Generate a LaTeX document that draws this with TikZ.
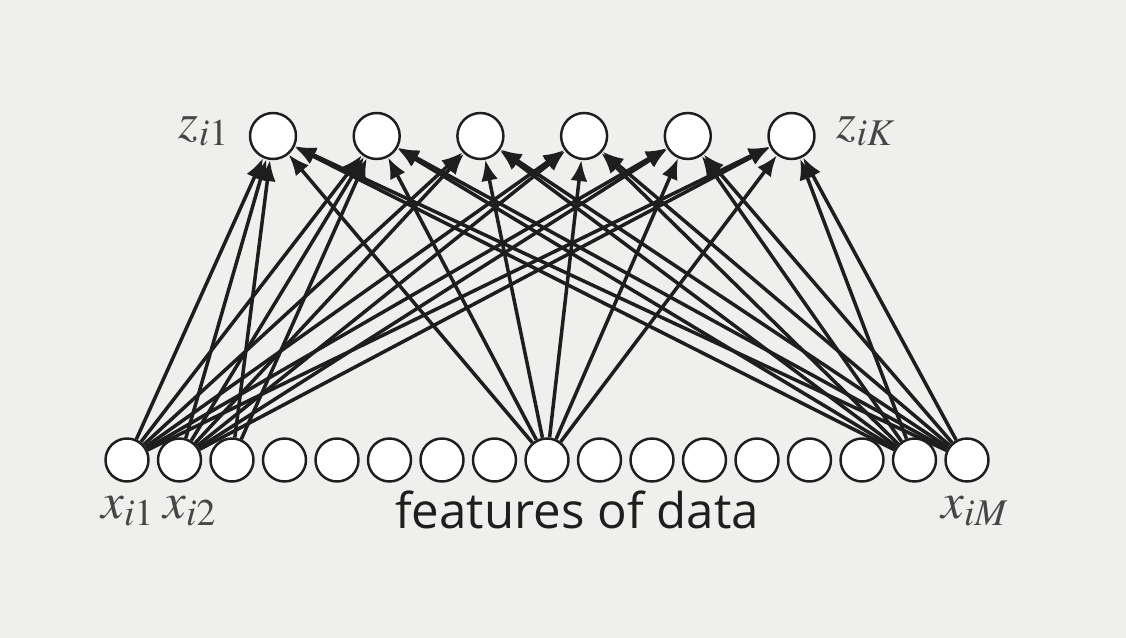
\documentclass[tikz,border=0pt]{standalone}
\usepackage{mathptmx}
\usepackage[no-math]{fontspec}
\usepackage{tikz}
\usetikzlibrary{arrows.meta}
\newfontfamily\featfont{Open Sans}
\definecolor{slidegray}{RGB}{239,240,237}
\definecolor{inkgray}{RGB}{30,30,30}
\definecolor{labelgray}{RGB}{70,70,70}

\begin{document}
\begin{tikzpicture}[x=0.02cm,y=-0.02cm,
    unit/.style={circle,draw=inkgray,line width=1.4pt,fill=white,inner sep=0pt},
    feat/.style={unit,minimum size=0.86cm},
    latent/.style={unit,minimum size=0.92cm},
    link/.style={-{Latex[length=4.2mm,width=3.4mm]},line width=2pt,draw=inkgray},
    lbl/.style={text=labelgray,font=\fontsize{29}{30}\selectfont}]

\fill[slidegray] (0,0) rectangle (1126,638);
\useasboundingbox (0,0) rectangle (1126,638);

% feature units and latent units
\foreach \i in {1,...,17}
  \node[feat] (x\i) at ({127+52.5*(\i-1)},460) {};
\foreach \k in {1,...,6}
  \node[latent] (z\k) at ({273+103.7*(\k-1)},136) {};

% connections
\foreach \i in {1,2,9,16,17}
  \foreach \k in {1,...,6}
    \draw[link] (x\i) -- (z\k);
\draw[link] (x3) -- (z1);
\draw[link] (x3) -- (z2);

\node[lbl] (zfirst) at (204,131) {$z_{i1}$};
\node[lbl] (zlast) at (866,131) {$z_{iK}$};
\node[lbl] (xfirst) at (128,511) {$x_{i1}$};
\node[lbl] (xsecond) at (190,511) {$x_{i2}$};
\node[lbl] (xlast) at (975,511) {$x_{iM}$};
\node[font=\featfont\fontsize{28}{30}\selectfont,text=inkgray] (caption) at (577,510) {features of data};
\end{tikzpicture}
\end{document}
